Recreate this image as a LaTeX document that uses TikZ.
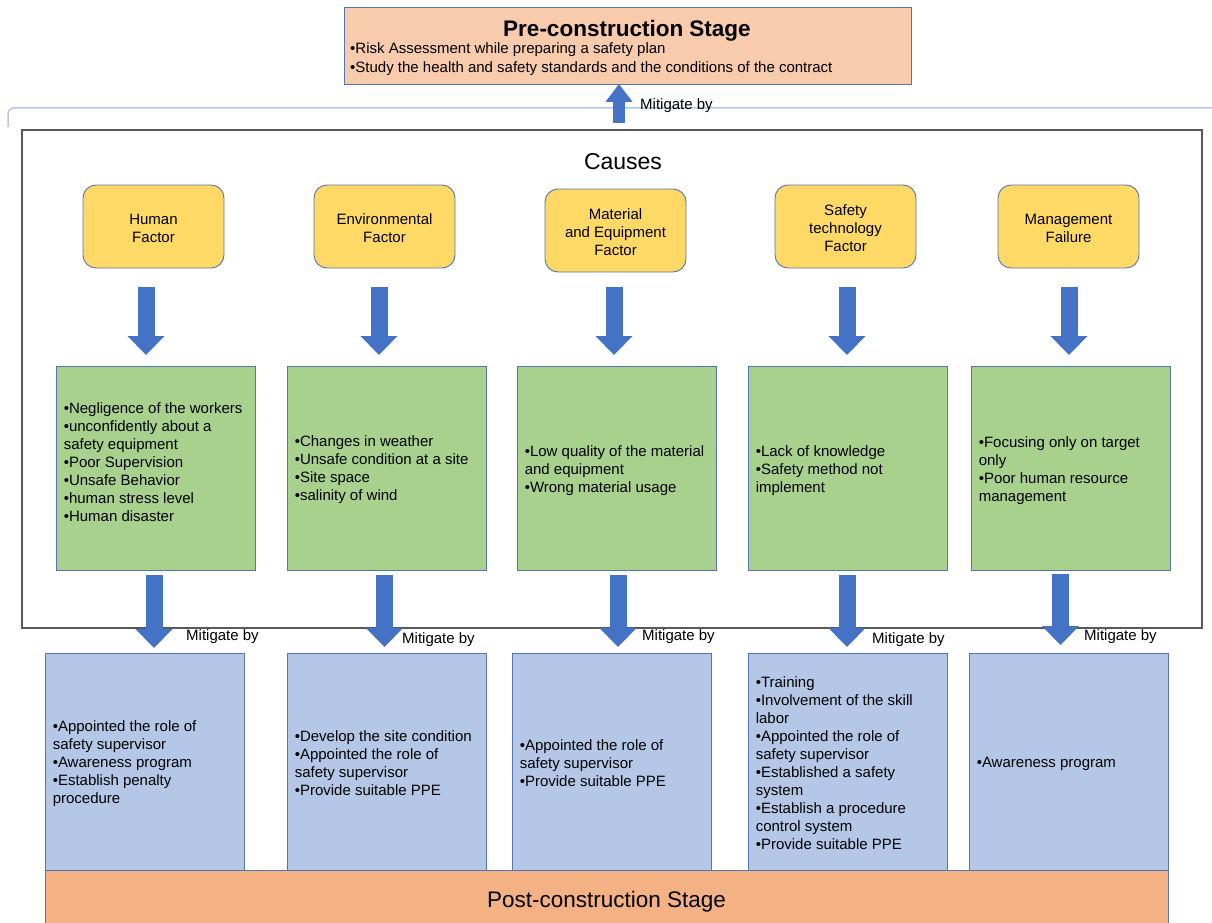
\documentclass[tikz,border=0pt]{standalone}
\usepackage{fontspec}
\setmainfont{Liberation Sans}
\usetikzlibrary{arrows.meta,calc}
\definecolor{prefill}{HTML}{F8CBAD}
\definecolor{postfill}{HTML}{F4B183}
\definecolor{yellowfill}{HTML}{FFD966}
\definecolor{greenfill}{HTML}{A9D18E}
\definecolor{bluefill}{HTML}{B4C7E7}
\definecolor{arrowblue}{HTML}{4472C4}
\definecolor{boxborder}{HTML}{5575B0}
\definecolor{framegray}{HTML}{595959}
\definecolor{lineblue}{HTML}{B4C7E7}
\begin{document}
\begin{tikzpicture}[x=1pt,y=-1pt,
  box/.style={rectangle, draw=boxborder, line width=0.9pt, inner sep=0pt},
  prebox/.style={box, fill=prefill, minimum width=567pt, minimum height=77pt},
  factor/.style={box, fill=yellowfill, rounded corners=13pt, minimum width=141pt, minimum height=83pt},
  factortext/.style={inner sep=0pt, align=center, font=\fontsize{15}{18}\selectfont},
  causebox/.style={box, fill=greenfill, minimum width=199pt, minimum height=204pt},
  measurebox/.style={box, fill=bluefill, minimum width=199pt, minimum height=217pt},
  postbox/.style={box, fill=postfill, minimum width=1123pt, minimum height=53pt},
  body/.style={inner sep=0pt, align=left, anchor=west, font=\fontsize{15}{18}\selectfont},
  lbl/.style={inner sep=0pt, anchor=west, font=\fontsize{15}{18}\selectfont},
  blockarrow/.style={draw=arrowblue, line width=17pt, -{Triangle[width=36pt,length=19pt]}},
  uparrow/.style={draw=arrowblue, line width=12pt, -{Triangle[width=26pt,length=18pt]}}
]
\useasboundingbox[fill=white] (0,0) rectangle (1212,923);

% thin light-blue bracket line
\draw[lineblue, line width=1.5pt, rounded corners=6pt] (8,127) -- (8,108) -- (1212,108);

% main frame
\node[rectangle, draw=framegray, line width=1.5pt, minimum width=1180pt, minimum height=498pt, inner sep=0pt] (main) at (612,379) {};

% pre-construction
\node[prebox] (pre) at (627.5,45.5) {};
\node[inner sep=0pt, font=\bfseries\fontsize{22.5}{27}\selectfont] (pretitle) at (627,30.5) {Pre-construction Stage};
\node[body, font=\fontsize{15}{19}\selectfont] (pretext) at (350,59.5) {•Risk Assessment while preparing a safety plan\\•Study the health and safety standards and the conditions of the contract};

\node[inner sep=0pt, font=\fontsize{23}{27}\selectfont] (causes) at (623,161.5) {Causes};

% factors
\node[factor] (h1) at (153.5,226.5) {};
\node[factor] (h2) at (384.5,226.5) {};
\node[factor] (h3) at (615.5,230.5) {};
\node[factor] (h4) at (845.5,226.5) {};
\node[factor] (h5) at (1068.5,226.5) {};
\node[factortext] (h1t) at ($(h1)+(0,2)$) {Human\\Factor};
\node[factortext] (h2t) at ($(h2)+(0,2)$) {Environmental\\Factor};
\node[factortext] (h3t) at ($(h3)+(0,2)$) {Material\\and Equipment\\Factor};
\node[factortext] (h4t) at ($(h4)+(0,2)$) {Safety\\technology\\Factor};
\node[factortext] (h5t) at ($(h5)+(0,2)$) {Management\\Failure};

% causes boxes
\node[causebox] (g1) at (155.5,468) {};
\node[causebox] (g2) at (386.5,468) {};
\node[causebox] (g3) at (616.5,468) {};
\node[causebox] (g4) at (847.5,468) {};
\node[causebox] (g5) at (1070.5,468) {};

\node[body] (gt1) at ($(g1.west)+(8,-6)$) {•Negligence of the workers\\•unconfidently about a\\safety equipment\\•Poor Supervision\\•Unsafe Behavior\\•human stress level\\•Human disaster};
\node[body] (gt2) at ($(g2.west)+(8,2)$) {•Changes in weather\\•Unsafe condition at a site\\•Site space\\•salinity of wind};
\node[body] (gt3) at ($(g3.west)+(8,3)$) {•Low quality of the material\\and equipment\\•Wrong material usage};
\node[body] (gt4) at ($(g4.west)+(8,3)$) {•Lack of knowledge\\•Safety method not\\implement};
\node[body] (gt5) at ($(g5.west)+(8,3)$) {•Focusing only on target\\only\\•Poor human resource\\management};

% mitigation boxes
\node[measurebox] (b1) at (144.5,761.5) {};
\node[measurebox] (b2) at (386.5,761.5) {};
\node[measurebox] (b3) at (611.5,761.5) {};
\node[measurebox] (b4) at (847.5,761.5) {};
\node[measurebox] (b5) at (1068.5,761.5) {};

\node[body] (bt1) at ($(b1.west)+(8,2)$) {•Appointed the role of\\safety supervisor\\•Awareness program\\•Establish penalty\\procedure};
\node[body] (bt2) at ($(b2.west)+(8,2)$) {•Develop the site condition\\•Appointed the role of\\safety supervisor\\•Provide suitable PPE};
\node[body] (bt3) at ($(b3.west)+(8,2)$) {•Appointed the role of\\safety supervisor\\•Provide suitable PPE};
\node[body] (bt4) at ($(b4.west)+(8,2)$) {•Training\\•Involvement of the skill\\labor\\•Appointed the role of\\safety supervisor\\•Established a safety\\system\\•Establish a procedure\\control system\\•Provide suitable PPE};
\node[body] (bt5) at ($(b5.west)+(8,2)$) {•Awareness program};

% post-construction
\node[postbox] (post) at (606.5,896.5) {};
\node[inner sep=0pt, font=\fontsize{22.5}{27}\selectfont] (posttitle) at (606.5,902) {Post-construction Stage};

% arrow end points
\coordinate (u0) at (619,123);  \coordinate (u1) at (619,84);
\coordinate (a1s) at (146,287);  \coordinate (a1e) at (146,355);
\coordinate (a2s) at (379,287);  \coordinate (a2e) at (379,355);
\coordinate (a3s) at (614,287);  \coordinate (a3e) at (614,355);
\coordinate (a4s) at (847,287);  \coordinate (a4e) at (847,355);
\coordinate (a5s) at (1069,287); \coordinate (a5e) at (1069,355);
\coordinate (c1s) at (154,575);  \coordinate (c1e) at (154,648);
\coordinate (c2s) at (384.5,575);\coordinate (c2e) at (384.5,647);
\coordinate (c3s) at (618,575);  \coordinate (c3e) at (618,647);
\coordinate (c4s) at (847,575);  \coordinate (c4e) at (847,647);
\coordinate (c5s) at (1060.5,574); \coordinate (c5e) at (1060.5,645);

\draw[uparrow] (u0) -- (u1);
\foreach \i in {1,...,5} {
  \draw[blockarrow] (a\i s) -- (a\i e);
  \draw[blockarrow] (c\i s) -- (c\i e);
}

% labels
\node[lbl] (m0) at (640,106) {Mitigate by};
\node[lbl] (m1) at (186,637) {Mitigate by};
\node[lbl] (m2) at (402,640) {Mitigate by};
\node[lbl] (m3) at (642,637) {Mitigate by};
\node[lbl] (m4) at (872,640) {Mitigate by};
\node[lbl] (m5) at (1084,637) {Mitigate by};
\end{tikzpicture}
\end{document}
